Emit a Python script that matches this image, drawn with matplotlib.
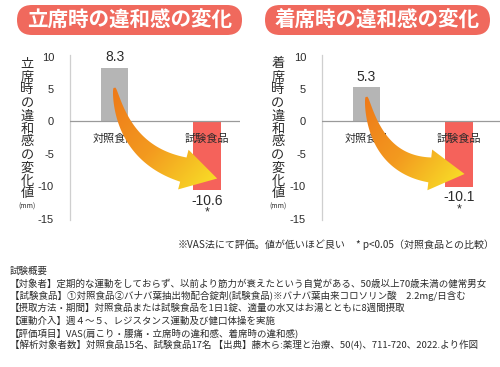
import numpy as np
import matplotlib
matplotlib.use('Agg')
import matplotlib.pyplot as plt
from matplotlib.patches import FancyBboxPatch, Polygon
from matplotlib.colors import LinearSegmentedColormap

plt.rcParams['font.family'] = ['Noto Sans CJK JP', 'DejaVu Sans']

# ---------------- data ----------------
categories = ['対照食品', '試験食品']
standing_values = [8.3, -10.6]
seated_values = [5.3, -10.1]
standing_labels = ['8.3', '-10.6']
seated_labels = ['5.3', '-10.1']
significance = ['', '*']
yticks = [10, 5, 0, -5, -10, -15]
titles = ['立席時の違和感の変化', '着席時の違和感の変化']
ylabels = ['立席時の違和感の変化値', '着席時の違和感の変化値']
unit = '(mm)'
note_left = '※VAS法にて評価。値が低いほど良い'
note_right = '* p<0.05（対照食品との比較）'
summary_lines = [
    '試験概要',
    '【対象者】定期的な運動をしておらず、以前より筋力が衰えたという自覚がある、50歳以上70歳未満の健常男女',
    '【試験食品】①対照食品②バナバ葉抽出物配合錠剤(試験食品)※バナバ葉由来コロソリン酸　2.2mg/日含む',
    '【摂取方法・期間】対照食品または試験食品を1日1錠、適量の水又はお湯とともに8週間摂取',
    '【運動介入】週４～５、レジスタンス運動及び健口体操を実施',
    '【評価項目】VAS(肩こり・腰痛・立席時の違和感、着席時の違和感)',
    '【解析対象者数】対照食品15名、試験食品17名 【出典】藤木ら:薬理と治療、50(4)、711-720、2022.より作図',
]

# ---------------- style ----------------
W, H = 500, 367
bar_colors = ['#b5b5b5', '#f5625b']
pill_color = '#f0695d'
text_dark = '#2b2b2b'
num_font = ['Liberation Sans', 'DejaVu Sans']

fig = plt.figure(figsize=(W / 100, H / 100), dpi=100)

panels = [
    dict(values=standing_values, labels=standing_labels, title=titles[0],
         ylabel=ylabels[0], ax_px=(70, 240), pill=(17, 242), ylab_x=27,
         tail=(0.0, 5.2), tip=(1.11, -8.8), head_dir=(36, 9.5)),
    dict(values=seated_values, labels=seated_labels, title=titles[1],
         ylabel=ylabels[1], ax_px=(322, 500), pill=(265, 490), ylab_x=278,
         tail=(0.0, 3.8), tip=(1.06, -8.1), head_dir=(34, 4)),
]

ax_top_px, ax_bot_px = 55, 220
ylim = (-15.2, 10.26)
x_unit_px = 92.5
bar_w = 0.30

# overlay axes in pixel (image) coordinates, y downward
ov = fig.add_axes([0, 0, 1, 1], zorder=5)
ov.set_xlim(0, W)
ov.set_ylim(H, 0)
ov.axis('off')
ov.patch.set_alpha(0)

cmap = LinearSegmentedColormap.from_list('arr', ['#ee7a19', '#f39a1f', '#f8dc27'])


def to_img(ax, x, y):
    dx, dy = ax.transData.transform((x, y))
    return np.array([dx, H - dy])


for p in panels:
    x0px, x1px = p['ax_px']
    left_first = 0 - 44.5 / x_unit_px
    xlim = (left_first, left_first + (x1px - x0px) / x_unit_px)
    ax = fig.add_axes([x0px / W, (H - ax_bot_px) / H, (x1px - x0px) / W,
                       (ax_bot_px - ax_top_px) / H])
    ax.set_xlim(*xlim)
    ax.set_ylim(*ylim)
    ax.patch.set_alpha(0)
    for s in ['top', 'right', 'bottom']:
        ax.spines[s].set_visible(False)
    ax.spines['left'].set_color('#cfcfcf')
    ax.spines['left'].set_linewidth(0.9)
    ax.axhline(0, color='#9a9a9a', lw=0.9, zorder=3)
    ax.set_xticks([])
    ax.set_yticks(yticks)
    ax.set_yticklabels([str(t) for t in yticks], fontfamily=num_font,
                       fontsize=8, color=text_dark)
    ax.tick_params(axis='y', length=0, pad=11.5)

    xs = np.arange(len(categories))
    ax.bar(xs, p['values'], width=bar_w, color=bar_colors, zorder=2)
    for i, (v, lab) in enumerate(zip(p['values'], p['labels'])):
        sgn = 1 if v >= 0 else -1
        ax.annotate(lab, (xs[i], v), xytext=(0, sgn * 7.5), textcoords='offset points',
                    ha='center', va='center', fontsize=10, color=text_dark,
                    fontfamily=num_font)
        if significance[i]:
            ax.annotate(significance[i], (xs[i], v), xytext=(0, sgn * 16),
                        textcoords='offset points', ha='center', va='center',
                        fontsize=9, color=text_dark, fontfamily=num_font)
        ax.annotate(categories[i], (xs[i], 0), xytext=(0, -12.5),
                    textcoords='offset points', ha='center', va='center',
                    fontsize=8, color=text_dark)

    # title pill
    px0, px1 = p['pill']
    ov.add_patch(FancyBboxPatch((px0, 5), px1 - px0, 30,
                                boxstyle='round,pad=0,rounding_size=15',
                                fc=pill_color, ec='none'))
    ov.text((px0 + px1) / 2, 20.5, p['title'], ha='center', va='center',
            color='white', fontsize=14.8, fontweight='bold')

    # vertical stacked y label
    for k, ch in enumerate(p['ylabel']):
        ov.text(p['ylab_x'], 64 + 13 * k, ch, ha='center', va='center',
                fontsize=9.5, color=text_dark)
    ov.text(p['ylab_x'], 207, unit, ha='center', va='center', fontsize=5,
            color=text_dark)

    # curved gradient arrow
    S = to_img(ax, *p['tail'])
    T = to_img(ax, *p['tip'])
    u = np.array(p['head_dir'], dtype=float)
    u = u / np.linalg.norm(u)
    L, hw = 35, 20.5
    B = T - L * u
    k = (B[0] - S[0] - 10) / u[0]
    C = B - k * u
    ts = np.linspace(0, 1, 80)
    P = ((1 - ts) ** 2)[:, None] * S + (2 * (1 - ts) * ts)[:, None] * C + (ts ** 2)[:, None] * B
    D = (2 * (1 - ts))[:, None] * (C - S) + (2 * ts)[:, None] * (B - C)
    D = D / np.linalg.norm(D, axis=1)[:, None]
    N = np.stack([-D[:, 1], D[:, 0]], axis=1)
    wb = 1.0 + 11.5 * ts ** 0.65
    left_edge = P + N * wb[:, None]
    right_edge = P - N * wb[:, None]
    nb = np.array([-u[1], u[0]])
    head = np.array([B + nb * hw, T, B - nb * hw])
    poly_pts = np.vstack([left_edge, head, right_edge[::-1]])
    poly = Polygon(poly_pts, closed=True, fc='none', ec='none')
    ov.add_patch(poly)
    xmin, ymin = poly_pts.min(axis=0) - 2
    xmax, ymax = poly_pts.max(axis=0) + 2
    gx = np.linspace(xmin, xmax, 200)
    gy = np.linspace(ymin, ymax, 200)
    GX, GY = np.meshgrid(gx, gy)
    v = T - S
    val = ((GX - S[0]) * v[0] + (GY - S[1]) * v[1]) / (v @ v)
    im = ov.imshow(np.clip(val, 0, 1), cmap=cmap, vmin=0, vmax=1,
                   extent=(xmin, xmax, ymax, ymin), origin='upper',
                   aspect='auto', interpolation='bilinear', zorder=6)
    im.set_clip_path(poly)

ov.set_xlim(0, W)
ov.set_ylim(H, 0)

# notes
ov.text(178, 245, note_left, ha='left', va='center', fontsize=7.2, color=text_dark)
ov.text(494, 245, note_right, ha='right', va='center', fontsize=7.2, color=text_dark)

# summary
line_y = [271, 284, 296, 308, 321, 333, 345]
for y, line in zip(line_y, summary_lines):
    ov.text(10, y, line, ha='left', va='center', fontsize=6.8, color=text_dark)

fig.savefig('out.png', dpi=100, facecolor='white')
